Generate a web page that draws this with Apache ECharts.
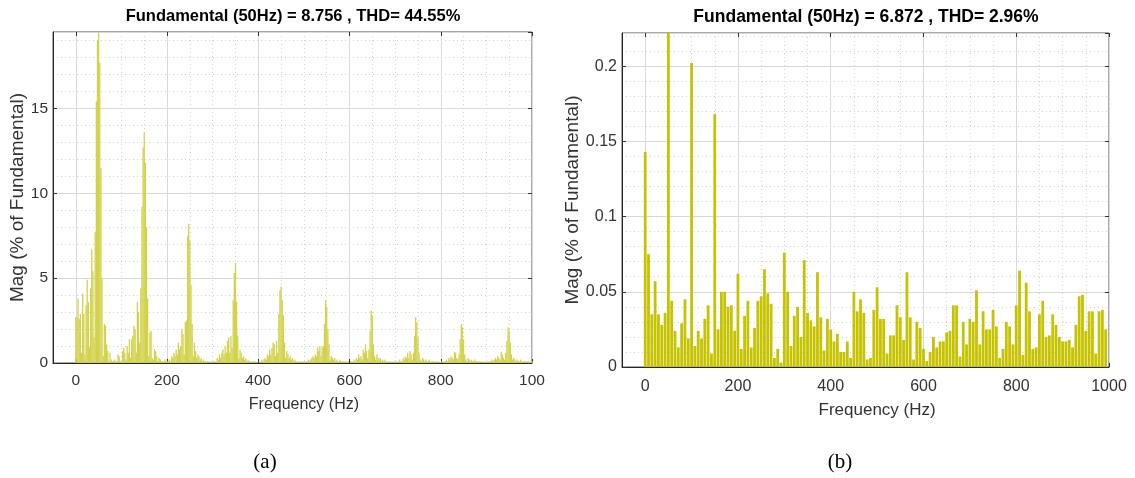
<!DOCTYPE html>
<html>
<head>
<meta charset="utf-8">
<script src="https://cdn.jsdelivr.net/npm/echarts@6/dist/echarts.min.js"></script>
<style>
html, body { margin: 0; background: #fff; }
#chart { width: 1135px; height: 478px; }
</style>
</head>
<body>
<div id="chart"></div>
<script>
// (a) spectrum, 2.5 Hz bins, one array per 100 Hz
const magA000 = [2.7, 2.7, 3.8, 2.6, 2.9, 0.6, 4.1, 2.9, 0.5, 3.4,
  4.9, 3.6, 0.9, 4.4, 6.7, 5.4, 1.5, 7.7, 15.4, 19.0,
  100, 17.7, 11.5, 5.0, 0.4, 2.3, 2.2, 1.1, 0.7, 0.1,
  0.6, 0.2, 0.1, 0.1, 0.2, 0.1, 0.1, 0.5, 0.4, 0.1]
const magA100 = [0.1, 0.7, 0.9, 0.6, 0.2, 1.0, 0.6, 1.4, 0.3, 1.4,
  1.6, 2.2, 2.0, 0.6, 3.6, 3.0, 1.2, 4.4, 9.2, 12.7,
  13.6, 11.8, 8.0, 3.8, 0.4, 1.8, 1.9, 0.3, 0.2, 0.8,
  0.7, 0.4, 0.1, 0.3, 0.2, 0.1, 0.1, 0.1, 0.2, 0.1]
const magA200 = [0.1, 0.1, 0.2, 0.1, 0.4, 0.3, 0.6, 0.4, 0.8, 0.5,
  1.2, 0.8, 1.0, 2.0, 1.7, 0.5, 2.4, 2.5, 7.5, 8.2,
  7.2, 4.6, 2.3, 0.4, 1.2, 0.7, 0.3, 0.5, 0.4, 0.2,
  0.3, 0.1, 0.2, 0.1, 0.1, 0.1, 0.0, 0.1, 0.0, 0.1]
const magA300 = [0.0, 0.1, 0.1, 0.0, 0.3, 0.2, 0.5, 0.3, 0.6, 0.8,
  0.5, 1.0, 0.6, 1.3, 1.5, 0.6, 1.6, 0.9, 3.7, 5.3,
  5.9, 3.6, 1.6, 0.3, 0.8, 0.6, 0.3, 0.4, 0.2, 0.3,
  0.1, 0.2, 0.1, 0.1, 0.0, 0.1, 0.0, 0.1, 0.0, 0.0]
const magA400 = [0.0, 0.1, 0.0, 0.2, 0.1, 0.2, 0.3, 0.2, 0.5, 0.4,
  0.8, 0.5, 0.9, 1.2, 1.1, 0.4, 1.3, 0.6, 2.9, 4.3,
  4.5, 3.7, 2.8, 1.2, 0.3, 0.7, 0.5, 0.3, 0.4, 0.2,
  0.3, 0.1, 0.2, 0.1, 0.1, 0.0, 0.1, 0.1, 0.0, 0.1]
const magA500 = [0.0, 0.1, 0.0, 0.1, 0.2, 0.1, 0.2, 0.3, 0.4, 0.3,
  0.5, 0.4, 0.9, 0.7, 1.0, 0.4, 0.9, 1.0, 2.3, 3.7,
  3.3, 2.0, 1.1, 0.2, 0.4, 0.3, 0.2, 0.3, 0.1, 0.2,
  0.1, 0.1, 0.2, 0.0, 0.1, 0.1, 0.0, 0.1, 0.0, 0.1]
const magA600 = [0.0, 0.1, 0.1, 0.0, 0.2, 0.1, 0.3, 0.2, 0.5, 0.3,
  0.4, 0.2, 0.8, 0.6, 1.1, 0.7, 0.3, 0.8, 1.9, 3.1,
  2.8, 1.1, 0.4, 0.2, 0.5, 0.3, 0.2, 0.3, 0.1, 0.2,
  0.1, 0.2, 0.1, 0.0, 0.1, 0.0, 0.1, 0.0, 0.0, 0.1]
const magA700 = [0.0, 0.1, 0.0, 0.1, 0.2, 0.1, 0.1, 0.3, 0.2, 0.4,
  0.3, 0.6, 0.3, 0.7, 0.5, 0.2, 0.6, 1.6, 2.7, 2.4,
  1.5, 0.6, 0.2, 0.1, 0.3, 0.2, 0.1, 0.2, 0.1, 0.1,
  0.2, 0.0, 0.1, 0.1, 0.0, 0.1, 0.0, 0.1, 0.0, 0.0]
const magA800 = [0.0, 0.1, 0.0, 0.1, 0.1, 0.2, 0.1, 0.3, 0.2, 0.4,
  0.3, 0.2, 0.65, 0.6, 0.3, 0.2, 0.5, 1.4, 2.3, 2.1,
  1.4, 0.5, 0.2, 0.1, 0.3, 0.2, 0.1, 0.2, 0.1, 0.1,
  0.2, 0.1, 0.0, 0.1, 0.1, 0.0, 0.1, 0.0, 0.1, 0.0]
const magA900 = [0.0, 0.1, 0.0, 0.1, 0.1, 0.2, 0.1, 0.2, 0.3, 0.2,
  0.4, 0.3, 0.2, 0.65, 0.5, 0.3, 0.2, 0.6, 1.3, 2.1,
  1.9, 1.2, 0.5, 0.2, 0.3, 0.2, 0.1, 0.2, 0.1, 0.1,
  0.2, 0.1, 0.0, 0.1, 0.1, 0.0, 0.1, 0.1, 0.0, 0.1, 0.1]
const stepA = 2.5

// (b) spectrum, 50/7 Hz bins
const magB = [
  0.143, 0.075, 0.035, 0.057, 0.035, 0.028, 0.036, 100, 0.044, 0.024,
  0.013, 0.029, 0.045, 0.019, 0.202, 0.014, 0.024, 0.019, 0.032, 0.041,
  0.009, 0.168, 0.025, 0.050, 0.050, 0.040, 0.041, 0.024, 0.062, 0.012,
  0.034, 0.044, 0.013, 0.026, 0.044, 0.047, 0.065, 0.049, 0.042, 0.006,
  0.012, 0.003, 0.076, 0.050, 0.014, 0.034, 0.040, 0.020, 0.071, 0.036,
  0.031, 0.027, 0.063, 0.033, 0.011, 0.032, 0.025, 0.017, 0.022, 0.010,
  0.010, 0.017, 0.006, 0.050, 0.037, 0.045, 0.036, 0.005, 0.006, 0.038,
  0.053, 0.032, 0.032, 0.009, 0.021, 0.021, 0.041, 0.033, 0.018, 0.063,
  0.033, 0.005, 0.030, 0.026, 0.012, 0.004, 0.010, 0.020, 0.013, 0.017,
  0.017, 0.023, 0.024, 0.041, 0.041, 0.007, 0.030, 0.015, 0.032, 0.030,
  0.051, 0.015, 0.037, 0.025, 0.025, 0.038, 0.027, 0.006, 0.012, 0.030,
  0.027, 0.015, 0.041, 0.064, 0.008, 0.056, 0.037, 0.012, 0.013, 0.035,
  0.044, 0.020, 0.021, 0.035, 0.028, 0.020, 0.017, 0.017, 0.018, 0.013,
  0.028, 0.047, 0.048, 0.024, 0.037, 0.037, 0.009, 0.037, 0.038, 0.025
]
const stepB = 50 / 7

const titles = ['Fundamental (50Hz) = 8.756 , THD= 44.55%', 'Fundamental (50Hz) = 6.872 , THD= 2.96%']
const captions = ['(a)', '(b)']

const magA = [].concat(magA000, magA100, magA200, magA300, magA400, magA500, magA600, magA700, magA800, magA900)
const pairsA = magA.map((v, i) => [i * stepA, v])
const pairsB = magB.map((v, i) => [i * stepB, v])

const SANS = '"Liberation Sans", Arial, sans-serif'
const panels = [
  { data: pairsA, ymax: 19.5, yMinor: 1, yMajor: 5, left: 53, top: 32, width: 479, height: 331,
    barWidth: 1.3, color: '#d2d24c', tick: 15.5, xName: 16, yName: 19, yNameGap: 23, xNameGap: 34, margin: 10,
    title: [293, 16, 16.5], caption: [265, 462], clip1000: true },
  { data: pairsB, ymax: 0.222, yMinor: 0.01, yMajor: 0.05, left: 622, top: 33, width: 487, height: 334,
    barWidth: 2.8, color: '#c6c300', tick: 16, xName: 17, yName: 19, yNameGap: 40, xNameGap: 35, margin: 12,
    title: [866, 17, 17.5], caption: [840, 462], clip1000: false }
]

const grid = []
const xAxis = []
const yAxis = []
const series = []
const graphic = []
const minorLine = { show: true, lineStyle: { color: '#d2d2d2', type: [1, 3], width: 1 } }
const majorLine = { show: true, lineStyle: { color: '#d9d9d9', type: 'solid', width: 1 } }
const darkTick = { show: true, inside: true, length: 4, lineStyle: { color: '#333' } }

panels.forEach((p, k) => {
  const g = grid.length
  const zeroPx = p.left + 50 * p.width / 1050
  // data grid (-50..1000)
  grid.push({ left: p.left, top: p.top, width: p.width, height: p.height, show: true,
    borderColor: '#555', borderWidth: 1, outerBoundsMode: 'none' })
  // tick grid (0..1000)
  grid.push({ left: zeroPx, top: p.top, width: p.left + p.width - zeroPx, height: p.height,
    outerBoundsMode: 'none' })

  const x0 = xAxis.length
  xAxis.push({ type: 'value', gridIndex: g, min: -50, max: 1000, interval: 50, position: 'bottom',
    axisLine: { show: true, onZero: false, lineStyle: { color: '#262626' } }, axisTick: { show: false },
    axisLabel: { show: false }, splitLine: minorLine })
  xAxis.push({ type: 'value', gridIndex: g + 1, min: 0, max: 1000, interval: 200, position: 'bottom',
    axisLine: { show: false, onZero: false }, axisTick: darkTick,
    axisLabel: { show: true, margin: p.margin, color: '#333', fontFamily: SANS, fontSize: p.tick,
      formatter: v => (p.clip1000 && v === 1000) ? '100' : String(v) },
    splitLine: majorLine,
    name: 'Frequency (Hz)', nameLocation: 'middle', nameGap: p.xNameGap,
    nameTextStyle: { color: '#333', fontFamily: SANS, fontSize: p.xName } })
  xAxis.push({ type: 'value', gridIndex: g + 1, min: 0, max: 1000, interval: 200, position: 'top',
    axisLine: { show: false, onZero: false }, axisTick: darkTick, axisLabel: { show: false }, splitLine: { show: false } })

  const y0 = yAxis.length
  yAxis.push({ type: 'value', gridIndex: g, min: 0, max: p.ymax, interval: p.yMinor, position: 'left',
    axisLine: { show: true, onZero: false, lineStyle: { color: '#262626' } }, axisTick: { show: false },
    axisLabel: { show: false }, splitLine: minorLine })
  yAxis.push({ type: 'value', gridIndex: g, min: 0, max: p.ymax, interval: p.yMajor, position: 'left',
    axisLine: { show: false, onZero: false }, axisTick: darkTick,
    axisLabel: { show: true, margin: 5, color: '#333', fontFamily: SANS, fontSize: p.tick, showMaxLabel: false },
    splitLine: majorLine,
    name: 'Mag (% of Fundamental)', nameLocation: 'middle', nameGap: p.yNameGap,
    nameTextStyle: { color: '#333', fontFamily: SANS, fontSize: p.yName } })
  yAxis.push({ type: 'value', gridIndex: g, min: 0, max: p.ymax, interval: p.yMajor, position: 'right',
    axisLine: { show: false, onZero: false }, axisTick: darkTick, axisLabel: { show: false }, splitLine: { show: false } })
  yAxis.push({ type: 'value', gridIndex: g + 1, min: 0, max: 1, show: false })

  series.push({ type: 'bar', xAxisIndex: x0, yAxisIndex: y0, data: p.data, barWidth: p.barWidth,
    itemStyle: { color: p.color }, clip: true, silent: true, z: 3 })

  graphic.push({ type: 'text', x: p.title[0], y: p.title[1], silent: true,
    style: { text: titles[k], font: 'bold ' + p.title[2] + 'px ' + SANS, fill: '#000',
      textAlign: 'center', align: 'center', textVerticalAlign: 'middle', verticalAlign: 'middle' } })
  graphic.push({ type: 'text', x: p.caption[0], y: p.caption[1], silent: true,
    style: { text: captions[k], font: '21px "Liberation Serif", "Times New Roman", serif', fill: '#000',
      textAlign: 'center', align: 'center', textVerticalAlign: 'middle', verticalAlign: 'middle' } })
})

const chart = echarts.init(document.getElementById('chart'))
chart.setOption({
  animation: false,
  backgroundColor: '#fff',
  grid: grid,
  xAxis: xAxis,
  yAxis: yAxis,
  series: series,
  graphic: graphic
})
</script>
</body>
</html>
